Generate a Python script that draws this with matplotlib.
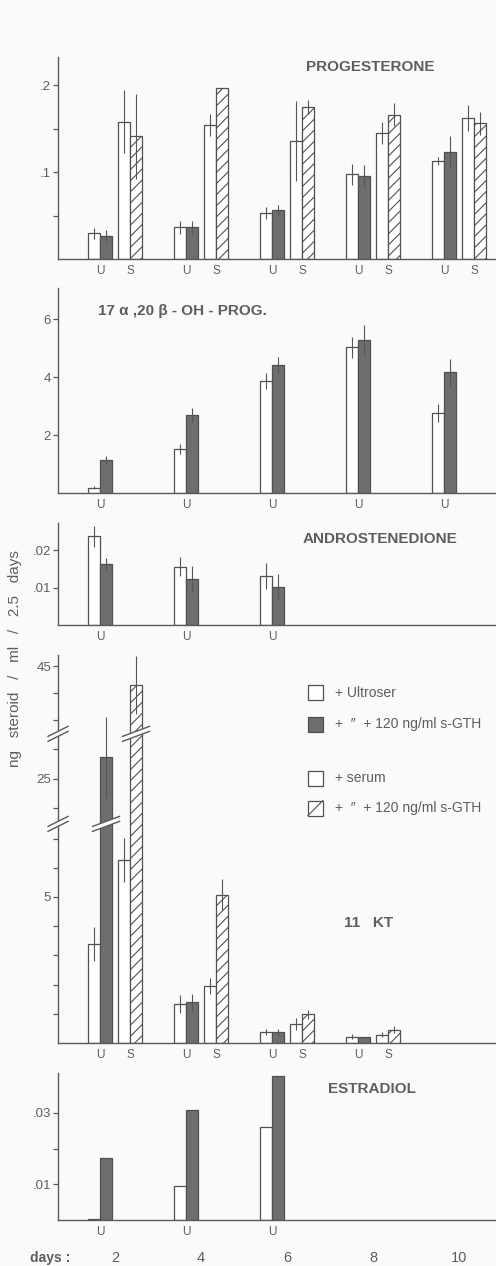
import numpy as np
import matplotlib
matplotlib.use("Agg")
import matplotlib.pyplot as plt
from matplotlib.patches import Rectangle, Polygon
from matplotlib.lines import Line2D
from matplotlib.transforms import ScaledTranslation

# ---------------- data ----------------
days = [2, 4, 6, 8, 10]
day_labels = ["2", "4", "6", "8", "10"]

# Progesterone (U = Ultroser, S = serum)
prog_u = [0.0295, 0.0364, 0.0525, 0.0973, 0.1126]
prog_u_err = [0.0065, 0.0075, 0.007, 0.012, 0.005]
prog_ug = [0.0268, 0.0364, 0.0563, 0.0954, 0.1234]
prog_ug_err = [0.006, 0.007, 0.006, 0.013, 0.018]
prog_s = [0.158, 0.154, 0.136, 0.145, 0.1617]
prog_s_err = [0.036, 0.013, 0.046, 0.013, 0.015]
prog_sg = [0.141, 0.196, 0.175, 0.166, 0.156]
prog_sg_err = [0.049, 0.0, 0.008, 0.013, 0.013]

# 17a,20b-OH-progesterone
ohp_u = [0.18, 1.52, 3.87, 5.02, 2.75]
ohp_u_err = [0.05, 0.17, 0.27, 0.35, 0.31]
ohp_ug = [1.14, 2.69, 4.41, 5.28, 4.16]
ohp_ug_err = [0.14, 0.23, 0.27, 0.51, 0.46]

# Androstenedione (days 2, 4, 6)
andro_days = [2, 4, 6]
andro_u = [0.0237, 0.0156, 0.0131]
andro_u_err = [0.0028, 0.0025, 0.0034]
andro_ug = [0.0164, 0.0123, 0.0101]
andro_ug_err = [0.0016, 0.0035, 0.0035]

# 11-ketotestosterone (days 2..8)
kt_days = [2, 4, 6, 8]
kt_u = [3.38, 1.33, 0.37, 0.22]
kt_u_err = [0.58, 0.31, 0.11, 0.08]
kt_ug = [28.7, 1.39, 0.37, 0.19]
kt_ug_err = [7.0, 0.30, 0.11, 0.03]
kt_s = [6.27, 1.95, 0.65, 0.28]
kt_s_err = [0.75, 0.27, 0.19, 0.09]
kt_sg = [41.6, 5.07, 0.98, 0.45]
kt_sg_err = [5.4, 0.53, 0.15, 0.12]

# Estradiol (days 2, 4, 6)
e2_days = [2, 4, 6]
e2_u = [0.0004, 0.0095, 0.0261]
e2_ug = [0.0175, 0.0308, 0.0404]

legend_labels = ["+ Ultroser", "+  \u2033  + 120 ng/ml s-GTH",
                 "+ serum", "+  \u2033  + 120 ng/ml s-GTH"]

# ---------------- style ----------------
W, H = 496, 1266
BG = "#fafafa"
TXT = "#5e5e5e"
AX = "#5a5a5a"
EDGE = "#505050"
GREY = "#6e6e6e"
FONT = ["Liberation Sans", "DejaVu Sans"]

plt.rcParams["font.family"] = FONT
plt.rcParams["hatch.linewidth"] = 0.8
plt.rcParams["hatch.color"] = EDGE

fig = plt.figure(figsize=(W / 100, H / 100), dpi=100, facecolor=BG)

LEFT_PX = 58
XL = (2 + (LEFT_PX - 115) / 43.0, 2 + (W - 115) / 43.0)
BW = 12 / 43.0
OFF_U, OFF_UG, OFF_S, OFF_SG = -21 / 43.0, -9 / 43.0, 9 / 43.0, 21 / 43.0
LAB_OFF = 15 / 43.0


def make_ax(top_px, bot_px):
    ax = fig.add_axes([LEFT_PX / W, 1 - bot_px / H, (W - LEFT_PX) / W,
                       (bot_px - top_px) / H])
    ax.set_facecolor("none")
    for s in ("top", "right"):
        ax.spines[s].set_visible(False)
    for s in ("left", "bottom"):
        ax.spines[s].set_color(AX)
        ax.spines[s].set_linewidth(1.0)
    ax.set_xlim(*XL)
    ax.tick_params(axis="y", which="both", direction="out", length=3.5,
                   width=0.9, color=AX, labelsize=9.5, labelcolor=TXT, pad=1.5)
    ax.tick_params(axis="x", length=0, labelsize=8.5, labelcolor=TXT, pad=4)
    return ax


def bars(ax, x, vals, off, kind, err=None):
    xs = np.asarray(x, float) + off
    if kind == "white":
        ax.bar(xs, vals, BW, color="white", edgecolor=EDGE, linewidth=0.9, zorder=2)
    elif kind == "grey":
        ax.bar(xs, vals, BW, color=GREY, edgecolor=EDGE, linewidth=0.9, zorder=2)
    else:
        ax.bar(xs, vals, BW, color="white", edgecolor=EDGE, linewidth=0.9,
               hatch="///", zorder=2)
    if err is not None:
        ax.errorbar(xs, vals, yerr=err, fmt="none", ecolor="#555555",
                    elinewidth=0.8, capsize=0, zorder=3)


def us_labels(ax, x, with_s=True):
    pos, lab = [], []
    for d in x:
        pos.append(d - LAB_OFF)
        lab.append("U")
        if with_s:
            pos.append(d + LAB_OFF)
            lab.append("S")
    ax.set_xticks(pos, lab)


def ftext(xpx, ypx, s, **kw):
    fig.text(xpx / W, 1 - ypx / H, s, color=TXT, **kw)

# ---------------- panel 1: progesterone ----------------
ax1 = make_ax(57, 259)
bars(ax1, days, prog_u, OFF_U, "white", prog_u_err)
bars(ax1, days, prog_ug, OFF_UG, "grey", prog_ug_err)
bars(ax1, days, prog_s, OFF_S, "white", prog_s_err)
bars(ax1, days, prog_sg, OFF_SG, "hatch", prog_sg_err)
ax1.set_ylim(0, 0.2322)
ax1.set_yticks([0.1, 0.2], [".1", ".2"])
ax1.set_yticks([0.05, 0.15], minor=True)
us_labels(ax1, days)
ftext(370, 67, "PROGESTERONE", fontsize=11, fontweight="bold", ha="center", va="center")

# ---------------- panel 2: 17a,20b-OH-prog ----------------
ax2 = make_ax(288, 493)
bars(ax2, days, ohp_u, OFF_U, "white", ohp_u_err)
bars(ax2, days, ohp_ug, OFF_UG, "grey", ohp_ug_err)
ax2.set_ylim(0, 7.07)
ax2.set_yticks([2, 4, 6], ["2", "4", "6"])
us_labels(ax2, days, with_s=False)
ftext(98, 311, "17 \u03b1 ,20 \u03b2 - OH - PROG.", fontsize=11, fontweight="bold",
      ha="left", va="center")

# ---------------- panel 3: androstenedione ----------------
ax3 = make_ax(523, 625)
bars(ax3, andro_days, andro_u, OFF_U, "white", andro_u_err)
bars(ax3, andro_days, andro_ug, OFF_UG, "grey", andro_ug_err)
ax3.set_ylim(0, 0.0273)
ax3.set_yticks([0.01, 0.02], [".01", ".02"])
us_labels(ax3, andro_days, with_s=False)
ftext(380, 539, "ANDROSTENEDIONE", fontsize=11, fontweight="bold", ha="center", va="center")

# ---------------- panel 4: 11 KT (broken axis) ----------------
ax4 = make_ax(655, 1043)
VB = np.array([-100.0, 0.0, 7.5, 17.5, 32.5, 100.0])
HB = np.array([-2920.0, 0.0, 219.0, 219.5, 309.0, 309.0 + 5.4 * 67.5])
ax4.set_yscale("function", functions=(lambda v: np.interp(v, VB, HB),
                                      lambda h: np.interp(h, HB, VB)))
bars(ax4, kt_days, kt_u, OFF_U, "white", kt_u_err)
bars(ax4, kt_days, kt_ug, OFF_UG, "grey", kt_ug_err)
bars(ax4, kt_days, kt_s, OFF_S, "white", kt_s_err)
bars(ax4, kt_days, kt_sg, OFF_SG, "hatch", kt_sg_err)
ax4.set_ylim(0, 47.1)
ax4.set_yticks([5, 25, 45], ["5", "25", "45"])
ax4.set_yticks([1, 2, 3, 4, 6, 7, 20, 30, 35, 40], minor=True)
ax4.yaxis.set_minor_formatter(plt.NullFormatter())
us_labels(ax4, kt_days)
ftext(369, 923, "11   KT", fontsize=11, fontweight="bold", ha="center", va="center")


def brk(ax, base_trans, x, y, wpx):
    t = fig.dpi_scale_trans + ScaledTranslation(x, y, base_trans)
    hw, s, g = wpx / 200.0, 0.05, 0.025
    ax.add_artist(Polygon([(-hw, -s - g), (hw, s - g), (hw, s + g), (-hw, -s + g)],
                          closed=True, fc=BG, ec="none", transform=t, zorder=6,
                          clip_on=False))
    for sg in (-g, g):
        ax.add_artist(Line2D([-hw, hw], [-s + sg, s + sg], color=AX, lw=1.0,
                             transform=t, zorder=7, clip_on=False))

for yb in (7.5, 32.5):
    brk(ax4, ax4.get_yaxis_transform(), 0, yb, 20)
brk(ax4, ax4.transData, kt_days[0] + OFF_UG, 7.5, 27)
brk(ax4, ax4.transData, kt_days[0] + OFF_SG, 32.5, 27)

# legend (drawn by hand)
leg_y = [692.7, 724, 778, 808]
leg_kind = ["white", "grey", "white", "hatch"]
for yy, kind, lab in zip(leg_y, leg_kind, legend_labels):
    fc = GREY if kind == "grey" else "white"
    x0, y0 = 308 / W, 1 - (yy + 7.5) / H
    r = Rectangle((x0, y0), 15 / W, 15 / H, transform=fig.transFigure,
                  fc=fc, ec=EDGE, lw=0.9)
    fig.add_artist(r)
    if kind == "hatch":
        fig.add_artist(Line2D([x0, x0 + 15 / W], [y0, y0 + 15 / H],
                              transform=fig.transFigure, color=EDGE, lw=0.8))
    ftext(335, yy, lab, fontsize=10, ha="left", va="center")

# ---------------- panel 5: estradiol ----------------
ax5 = make_ax(1073, 1220)
bars(ax5, e2_days, e2_u, OFF_U, "white")
bars(ax5, e2_days, e2_ug, OFF_UG, "grey")
ax5.set_ylim(0, 0.0412)
ax5.set_yticks([0.01, 0.03], [".01", ".03"])
ax5.set_yticks([0.02], minor=True)
us_labels(ax5, e2_days, with_s=False)
ftext(372, 1089, "ESTRADIOL", fontsize=11, fontweight="bold", ha="center", va="center")

ytxt = (1220 - 1258) / 147.0
for d, lab in zip(days, day_labels):
    ax5.text(d, ytxt, lab, transform=ax5.get_xaxis_transform(), ha="center",
             va="center", fontsize=10.5, color=TXT)
ftext(50, 1258, "days :", fontsize=10, fontweight="bold", ha="center", va="center")

# y label
ftext(15, 659, "ng   steroid   /   ml   /   2.5   days", fontsize=11,
      rotation=90, ha="center", va="center")

fig.savefig("out.png", dpi=100, facecolor=BG)
